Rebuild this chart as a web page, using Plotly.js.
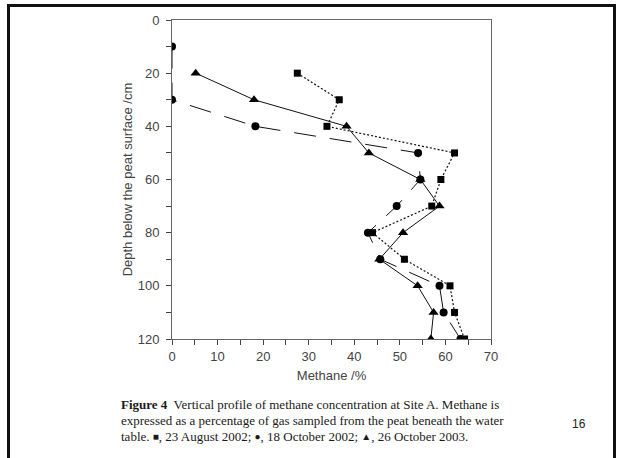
<!DOCTYPE html>
<html>
<head>
<meta charset="utf-8">
<script src="https://cdn.plot.ly/plotly-3.0.1.min.js"></script>
<style>
  html, body { margin: 0; padding: 0; background: #fff; }
  #page { position: relative; width: 624px; height: 458px; overflow: hidden; background: #fff; }
  #chart { position: absolute; left: 0; top: 0; width: 624px; height: 458px; }
  .frame { position: absolute; left: 7px; top: 4px; width: 603px; height: 470px;
           border: 3px solid #111; border-bottom: none; pointer-events: none; }
  .caption { position: absolute; left: 121px; top: 397px; width: 376px;
             font-family: "Liberation Serif", "Times New Roman", serif; font-size: 13px;
             line-height: 16px; color: #1a1a1a; }
  .caption .ln { white-space: nowrap; text-align: justify; text-align-last: justify; }
  .caption .ln.last { text-align: left; text-align-last: left; }
  .caption .sym { font-size: 10px; vertical-align: 1px; }
  .pagenum { position: absolute; left: 572px; top: 417px;
             font-family: "Liberation Sans", Arial, sans-serif; font-size: 12px; color: #222; }
</style>
</head>
<body>
<div id="page">
  <div id="chart"></div>
  <div class="frame"></div>
  <div class="caption">
    <div class="ln"><b>Figure 4</b>&nbsp; Vertical profile of methane concentration at Site A. Methane is</div>
    <div class="ln">expressed as a percentage of gas sampled from the peat beneath the water</div>
    <div class="ln last">table. <span class="sym">&#9632;</span>, 23 August 2002; <span class="sym">&#9679;</span>, 18 October 2002; <span class="sym">&#9650;</span>, 26 October 2003.</div>
  </div>
  <div class="pagenum">16</div>
</div>
<script>
// Depth (cm below peat surface) and methane (%) for each sampling date
const depthAug2002 = [20, 30, 40, 50, 60, 70, 80, 90, 100, 110, 120];
const methaneAug2002 = [27.5, 36.7, 34, 62, 59, 57, 44, 51, 61, 62, 64.2];

const depthOct2002 = [10, 30, 40, 50, 60, 70, 80, 90, 100, 110, 120];
const methaneOct2002 = [0, 0, 18.3, 54, 54.5, 49.3, 43, 45.7, 58.7, 59.6, 63.3];

const depthOct2003 = [20, 30, 40, 50, 60, 70, 80, 90, 100, 110, 120];
const methaneOct2003 = [5.2, 18, 38.3, 43.2, 54.5, 58.7, 50.7, 45.5, 53.9, 57.4, 56.8];

const axisFont = { family: "Liberation Sans, Arial, sans-serif", size: 13, color: "#444" };

const traces = [
  {
    x: methaneOct2002, y: depthOct2002, name: "18 October 2002",
    mode: "lines+markers", type: "scatter",
    line: { color: "#111", width: 1, dash: "22px,14px" },
    marker: { symbol: "circle", size: 8, color: "#000" }
  },
  {
    x: methaneAug2002, y: depthAug2002, name: "23 August 2002",
    mode: "lines+markers", type: "scatter",
    line: { color: "#111", width: 1.2, dash: "2px,2px" },
    marker: { symbol: "square", size: 7, color: "#000" }
  },
  {
    x: methaneOct2003, y: depthOct2003, name: "26 October 2003",
    mode: "lines+markers", type: "scatter",
    line: { color: "#111", width: 1 },
    marker: { symbol: "triangle-up", size: 9, color: "#000" }
  }
];

const layout = {
  width: 624, height: 458,
  margin: { l: 172, r: 133, t: 20, b: 119 },
  paper_bgcolor: "rgba(0,0,0,0)", plot_bgcolor: "rgba(0,0,0,0)",
  showlegend: false,
  font: axisFont,
  xaxis: {
    range: [0, 70], dtick: 10, tick0: 0,
    ticks: "outside", ticklen: 5, tickwidth: 1, tickcolor: "#444",
    minor: { dtick: 5, ticks: "outside", ticklen: 5, tickcolor: "#444" },
    showline: true, linecolor: "#666", linewidth: 1, mirror: true,
    showgrid: false, zeroline: false,
    tickfont: axisFont,
    title: { text: "Methane /%", font: axisFont, standoff: 8 }
  },
  yaxis: {
    range: [120, 0], dtick: 20, tick0: 0,
    ticks: "outside", ticklen: 5, tickwidth: 1, tickcolor: "#444",
    minor: { dtick: 10, ticks: "outside", ticklen: 5, tickcolor: "#444" },
    showline: true, linecolor: "#666", linewidth: 1, mirror: true,
    showgrid: false, zeroline: false,
    ticklabelstandoff: 4,
    tickfont: axisFont,
    title: { text: "Depth below the peat surface /cm", font: axisFont, standoff: 2 }
  }
};

Plotly.newPlot("chart", traces, layout, { staticPlot: true, displayModeBar: false });
</script>
</body>
</html>
